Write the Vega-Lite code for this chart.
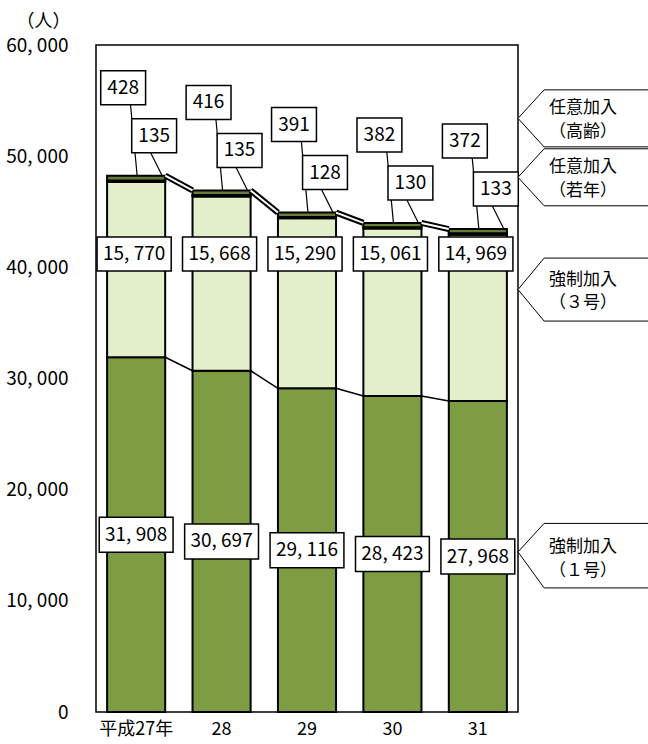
{
  "$schema": "https://vega.github.io/schema/vega-lite/v6.json",
  "autosize": "none",
  "width": 422,
  "height": 667,
  "padding": {"left": 96, "top": 45, "right": 130, "bottom": 32},
  "background": "white",
  "config": {
    "view": {"stroke": "black", "strokeWidth": 1.5},
    "font": "Noto Sans CJK JP",
    "axis": {"grid": false, "ticks": false, "domain": false, "labelColor": "black", "labelFont": "Noto Sans CJK JP", "titleFont": "Noto Sans CJK JP", "titleColor": "black"}
  },
  "data": {
    "values": [
      {"year": "平成27年", "n": 27, "series": "強制加入（1号）", "value": 31908},
      {"year": "平成27年", "n": 27, "series": "強制加入（3号）", "value": 15770},
      {"year": "平成27年", "n": 27, "series": "任意加入（若年）", "value": 135},
      {"year": "平成27年", "n": 27, "series": "任意加入（高齢）", "value": 428},
      {"year": "28", "n": 28, "series": "強制加入（1号）", "value": 30697},
      {"year": "28", "n": 28, "series": "強制加入（3号）", "value": 15668},
      {"year": "28", "n": 28, "series": "任意加入（若年）", "value": 135},
      {"year": "28", "n": 28, "series": "任意加入（高齢）", "value": 416},
      {"year": "29", "n": 29, "series": "強制加入（1号）", "value": 29116},
      {"year": "29", "n": 29, "series": "強制加入（3号）", "value": 15290},
      {"year": "29", "n": 29, "series": "任意加入（若年）", "value": 128},
      {"year": "29", "n": 29, "series": "任意加入（高齢）", "value": 391},
      {"year": "30", "n": 30, "series": "強制加入（1号）", "value": 28423},
      {"year": "30", "n": 30, "series": "強制加入（3号）", "value": 15061},
      {"year": "30", "n": 30, "series": "任意加入（若年）", "value": 130},
      {"year": "30", "n": 30, "series": "任意加入（高齢）", "value": 382},
      {"year": "31", "n": 31, "series": "強制加入（1号）", "value": 27968},
      {"year": "31", "n": 31, "series": "強制加入（3号）", "value": 14969},
      {"year": "31", "n": 31, "series": "任意加入（若年）", "value": 133},
      {"year": "31", "n": 31, "series": "任意加入（高齢）", "value": 372}
    ]
  },
  "encoding": {
    "x": {
      "field": "year",
      "type": "nominal",
      "scale": {"domain": ["平成27年", "28", "29", "30", "31"], "paddingInner": 0.32, "paddingOuter": 0.13},
      "axis": {"title": null, "labelAngle": 0, "labelFontSize": 18, "labelPadding": 8}
    }
  },
  "layer": [
    {
      "transform": [
        {"calculate": "indexof(['強制加入（1号）','強制加入（3号）','任意加入（若年）','任意加入（高齢）'], datum.series)", "as": "k"}
      ],
      "mark": {"type": "bar", "stroke": "black", "strokeWidth": 2},
      "encoding": {
        "y": {
          "field": "value",
          "type": "quantitative",
          "stack": "zero",
          "scale": {"domain": [0, 60000], "nice": false},
          "axis": {
            "values": [0, 10000, 20000, 30000, 40000, 50000, 60000],
            "labelExpr": "replace(datum.label, ',', ', ')",
            "labelFontSize": 19,
            "labelPadding": 28,
            "title": "（人）",
            "titleAngle": 0,
            "titleX": -53,
            "titleY": -24,
            "titleFontSize": 18,
            "titleFontWeight": "normal",
            "titleAlign": "center",
            "titleBaseline": "middle"
          }
        },
        "color": {
          "field": "series",
          "type": "nominal",
          "scale": {
            "domain": ["強制加入（1号）", "強制加入（3号）", "任意加入（若年）", "任意加入（高齢）"],
            "range": ["#7E9C41", "#E3EFCB", "#2E3A18", "#667D3A"]
          },
          "legend": null
        },
        "order": {"field": "k", "type": "quantitative"}
      }
    },
    {
      "transform": [
        {"filter": "datum.series === '強制加入（1号）'"},
        {"window": [{"op": "lead", "field": "value", "as": "nv"}, {"op": "lead", "field": "year", "as": "ny"}], "sort": [{"field": "n"}]},
        {"filter": "datum.ny != null"}
      ],
      "mark": {"type": "rule", "stroke": "black", "strokeWidth": 1.5, "xOffset": {"expr": "bandwidth('x')/2"}, "x2Offset": {"expr": "-bandwidth('x')/2"}},
      "encoding": {
        "x2": {"field": "ny"},
        "y": {"field": "value", "type": "quantitative"},
        "y2": {"field": "nv"}
      }
    },
    {
      "transform": [
        {"aggregate": [{"op": "sum", "field": "value", "as": "total"}], "groupby": ["year", "n"]},
        {"window": [{"op": "lead", "field": "total", "as": "nt"}, {"op": "lead", "field": "year", "as": "ny"}], "sort": [{"field": "n"}]},
        {"filter": "datum.ny != null"}
      ],
      "layer": [
        {
          "mark": {"type": "rule", "stroke": "black", "strokeWidth": 6, "xOffset": {"expr": "bandwidth('x')/2"}, "x2Offset": {"expr": "-bandwidth('x')/2"}},
          "encoding": {"x2": {"field": "ny"}, "y": {"field": "total", "type": "quantitative"}, "y2": {"field": "nt"}}
        },
        {
          "mark": {"type": "rule", "stroke": "white", "strokeWidth": 2, "xOffset": {"expr": "bandwidth('x')/2"}, "x2Offset": {"expr": "-bandwidth('x')/2"}},
          "encoding": {"x2": {"field": "ny"}, "y": {"field": "total", "type": "quantitative"}, "y2": {"field": "nt"}}
        }
      ]
    },
    {
      "transform": [
        {"joinaggregate": [{"op": "sum", "field": "value", "as": "total"}], "groupby": ["year"]},
        {"filter": "datum.series === '任意加入（高齢）'"},
        {"calculate": "format(datum.value, ',')", "as": "lbl"}
      ],
      "layer": [
        {
          "mark": {"type": "rule", "stroke": "black", "strokeWidth": 1.2, "xOffset": 1, "x2Offset": -6, "y2Offset": -75},
          "encoding": {"x2": {"field": "year"}, "y": {"field": "total", "type": "quantitative"}, "y2": {"field": "total"}}
        },
        {
          "mark": {"type": "point", "shape": "M-1.32,-1H1.32V1H-1.32Z", "size": 1156, "filled": true, "fill": "white", "opacity": 1, "stroke": "black", "strokeWidth": 1.5, "xOffset": -13, "yOffset": -88},
          "encoding": {"y": {"field": "total", "type": "quantitative"}}
        },
        {
          "mark": {"type": "text", "fontSize": 19, "color": "black", "baseline": "middle", "align": "center", "xOffset": -13, "yOffset": -88},
          "encoding": {"y": {"field": "total", "type": "quantitative"}, "text": {"field": "lbl"}}
        }
      ]
    },
    {
      "transform": [
        {"joinaggregate": [{"op": "sum", "field": "value", "as": "total"}], "groupby": ["year"]},
        {"filter": "datum.series === '任意加入（若年）'"},
        {"calculate": "format(datum.value, ',')", "as": "lbl"}
      ],
      "layer": [
        {
          "mark": {"type": "rule", "stroke": "black", "strokeWidth": 1.2, "xOffset": 26, "x2Offset": 12, "y2Offset": -28},
          "encoding": {"x2": {"field": "year"}, "y": {"field": "total", "type": "quantitative"}, "y2": {"field": "total"}}
        },
        {
          "mark": {"type": "point", "shape": "M-1.32,-1H1.32V1H-1.32Z", "size": 1156, "filled": true, "fill": "white", "opacity": 1, "stroke": "black", "strokeWidth": 1.5, "xOffset": 18, "yOffset": -40},
          "encoding": {"y": {"field": "total", "type": "quantitative"}}
        },
        {
          "mark": {"type": "text", "fontSize": 19, "color": "black", "baseline": "middle", "align": "center", "xOffset": 18, "yOffset": -40},
          "encoding": {"y": {"field": "total", "type": "quantitative"}, "text": {"field": "lbl"}}
        }
      ]
    },
    {
      "transform": [
        {"calculate": "indexof(['強制加入（1号）','強制加入（3号）','任意加入（若年）','任意加入（高齢）'], datum.series)", "as": "k"},
        {"stack": "value", "groupby": ["year"], "sort": [{"field": "k"}], "as": ["v0", "v1"]},
        {"calculate": "(datum.v0 + datum.v1) / 2", "as": "mid"},
        {"filter": "datum.k === 0"},
        {"calculate": "replace(format(datum.value, ','), ',', ', ')", "as": "lbl"}
      ],
      "layer": [
        {
          "mark": {"type": "point", "shape": "M-2.11,-1H2.11V1H-2.11Z", "size": 1225, "filled": true, "fill": "white", "opacity": 1, "stroke": "black", "strokeWidth": 1.5},
          "encoding": {"y": {"field": "mid", "type": "quantitative"}}
        },
        {
          "mark": {"type": "text", "fontSize": 19, "color": "black", "baseline": "middle", "align": "center"},
          "encoding": {"y": {"field": "mid", "type": "quantitative"}, "text": {"field": "lbl"}}
        }
      ]
    },
    {
      "transform": [
        {"filter": "datum.series === '強制加入（3号）'"},
        {"calculate": "replace(format(datum.value, ','), ',', ', ')", "as": "lbl"}
      ],
      "layer": [
        {
          "mark": {"type": "point", "shape": "M-2.18,-1H2.18V1H-2.18Z", "size": 1156, "filled": true, "fill": "white", "opacity": 1, "stroke": "black", "strokeWidth": 1.5, "xOffset": -2},
          "encoding": {"y": {"datum": 41200, "type": "quantitative"}}
        },
        {
          "mark": {"type": "text", "fontSize": 19, "color": "black", "baseline": "middle", "align": "center", "xOffset": -2},
          "encoding": {"y": {"datum": 41200, "type": "quantitative"}, "text": {"field": "lbl"}}
        }
      ]
    },
    {
      "data": {"values": [{"callout": "任意加入（高齢）"}]},
      "layer": [
        {
          "mark": {"type": "point", "shape": "M0,0L0.87,-0.95L4.4,-0.95L4.4,0.95L0.87,0.95Z", "size": 3600, "filled": true, "fill": "white", "opacity": 1, "stroke": "black", "strokeWidth": 1},
          "encoding": {"x": {"value": "width"}, "y": {"datum": 53400, "type": "quantitative"}}
        },
        {
          "mark": {"type": "text", "text": ["任意加入", "（高齢）"], "fontSize": 17, "lineHeight": 24, "color": "black", "align": "center", "baseline": "middle", "dx": 65, "dy": -10},
          "encoding": {"x": {"value": "width"}, "y": {"datum": 53400, "type": "quantitative"}}
        }
      ]
    },
    {
      "data": {"values": [{"callout": "任意加入（若年）"}]},
      "layer": [
        {
          "mark": {"type": "point", "shape": "M0,0L0.87,-0.95L4.4,-0.95L4.4,0.95L0.87,0.95Z", "size": 3600, "filled": true, "fill": "white", "opacity": 1, "stroke": "black", "strokeWidth": 1},
          "encoding": {"x": {"value": "width"}, "y": {"datum": 48100, "type": "quantitative"}}
        },
        {
          "mark": {"type": "text", "text": ["任意加入", "（若年）"], "fontSize": 17, "lineHeight": 24, "color": "black", "align": "center", "baseline": "middle", "dx": 65, "dy": -10},
          "encoding": {"x": {"value": "width"}, "y": {"datum": 48100, "type": "quantitative"}}
        }
      ]
    },
    {
      "data": {"values": [{"callout": "強制加入（3号）"}]},
      "layer": [
        {
          "mark": {"type": "point", "shape": "M0,0L0.87,-1.05L4.4,-1.05L4.4,1.05L0.87,1.05Z", "size": 3600, "filled": true, "fill": "white", "opacity": 1, "stroke": "black", "strokeWidth": 1},
          "encoding": {"x": {"value": "width"}, "y": {"datum": 38000, "type": "quantitative"}}
        },
        {
          "mark": {"type": "text", "text": ["強制加入", "（３号）"], "fontSize": 17, "lineHeight": 23, "color": "black", "align": "center", "baseline": "middle", "dx": 65, "dy": -10},
          "encoding": {"x": {"value": "width"}, "y": {"datum": 38000, "type": "quantitative"}}
        }
      ]
    },
    {
      "data": {"values": [{"callout": "強制加入（1号）"}]},
      "layer": [
        {
          "mark": {"type": "point", "shape": "M0,0L0.87,-0.95L4.4,-0.95L4.4,1.2L0.87,1.2Z", "size": 3600, "filled": true, "fill": "white", "opacity": 1, "stroke": "black", "strokeWidth": 1},
          "encoding": {"x": {"value": "width"}, "y": {"datum": 14400, "type": "quantitative"}}
        },
        {
          "mark": {"type": "text", "text": ["強制加入", "（１号）"], "fontSize": 17, "lineHeight": 24, "color": "black", "align": "center", "baseline": "middle", "dx": 65, "dy": -5},
          "encoding": {"x": {"value": "width"}, "y": {"datum": 14400, "type": "quantitative"}}
        }
      ]
    }
  ]
}
